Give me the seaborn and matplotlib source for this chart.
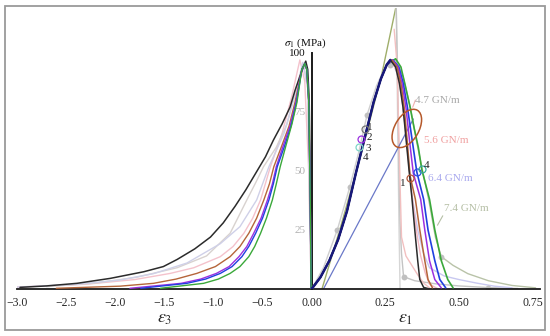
import numpy as np
import seaborn as sns
import matplotlib
matplotlib.use("Agg")
import matplotlib.pyplot as plt
from matplotlib.patches import Ellipse, Rectangle
from matplotlib.transforms import ScaledTranslation, blended_transform_factory

#%% data
# left branch: sigma_1 vs eps_3
bl_e3 = [-0.005, -0.012, -0.025, -0.04, -0.06, -0.085, -0.12, -0.17, -0.22, -0.30, -0.39, -0.47, -0.57, -0.67, -0.78, -0.9, -1.03, -1.19, -1.37, -1.51, -1.71, -2.05, -2.39, -2.7, -2.97]
bl_s3 = [0, 40, 80, 93, 96.5, 94, 90, 84, 77, 70, 63, 56, 49, 42, 35, 28, 22, 17, 12.5, 9.5, 7.3, 4.5, 2.4, 1.3, 0.7]
br_e3 = [-0.005, -0.015, -0.03, -0.05, -0.07, -0.1, -0.17, -0.23, -0.31, -0.385, -0.43, -0.487, -0.56, -0.64, -0.73, -0.83, -0.98, -1.17, -1.38, -1.61, -1.95, -2.6]
br_s3 = [0, 40, 80, 93, 95.5, 93, 79, 69, 60, 51.8, 44.5, 37.7, 30, 23.6, 18, 13.7, 9.5, 6.6, 4.2, 2.4, 1.2, 0.3]
pu_e3 = [-0.005, -0.015, -0.03, -0.05, -0.07, -0.1, -0.16, -0.22, -0.295, -0.36, -0.4, -0.45, -0.515, -0.59, -0.66, -0.74, -0.84, -0.97, -1.13, -1.33, -1.85]
pu_s3 = [0, 40, 80, 93, 95.5, 93, 79, 69, 60, 51.8, 44.5, 37.7, 30, 23.6, 18, 13.7, 9.5, 6.6, 4.2, 2.4, 0.3]
bu_e3 = [-0.005, -0.015, -0.03, -0.05, -0.07, -0.1, -0.155, -0.21, -0.28, -0.35, -0.39, -0.435, -0.5, -0.57, -0.64, -0.71, -0.81, -0.93, -1.08, -1.27, -1.74]
bu_s3 = [0, 40, 80, 93, 95.5, 93, 79, 69, 60, 51.8, 44.5, 37.7, 30, 23.6, 18, 13.7, 9.5, 6.6, 4.2, 2.4, 0.3]
gr_e3 = [-0.005, -0.015, -0.03, -0.05, -0.07, -0.1, -0.15, -0.2, -0.26, -0.32, -0.36, -0.40, -0.46, -0.52, -0.58, -0.64, -0.73, -0.83, -0.95, -1.10, -1.54]
gr_s3 = [0, 40, 80, 93, 95.5, 93, 79, 70, 61, 51.8, 44.5, 37.7, 30, 23.6, 18, 13.7, 9.5, 6.6, 4.2, 2.4, 0.3]
pk_e3 = [-0.005, -0.03, -0.07, -0.12, -0.2, -0.3, -0.42, -0.52, -0.6, -0.69, -0.8, -0.93, -1.2, -1.44, -1.8, -2.3, -3.0]
pk_s3 = [0, 50, 88, 97, 82, 66, 51.8, 37.7, 30, 23.6, 18, 13.7, 9, 6.6, 4, 2, 0.8]
gy_e3 = [-0.005, -0.04, -0.08, -0.15, -0.25, -0.36, -0.49, -0.57, -0.66, -0.83, -1.07, -1.37, -1.78, -2.2, -2.7]
gy_s3 = [0, 85, 95, 86, 70, 60, 51.8, 45, 37.7, 23.6, 14, 9, 5, 2.5, 1]
lv_e3 = [-0.005, -0.04, -0.09, -0.17, -0.28, -0.435, -0.56, -0.73, -0.93, -1.27, -1.61, -1.95, -2.4, -3.0]
lv_s3 = [0, 85, 96, 82, 66, 51.8, 37.7, 26.4, 19.2, 11, 6.5, 3.8, 2, 0.8]

# right branch: sigma_1 vs eps_1, shared pre-peak part
rise_e1 = [0.0, 0.03, 0.06, 0.09, 0.12, 0.15, 0.18, 0.21, 0.235, 0.255]
rise_s1 = [0, 5, 12, 21, 33, 49, 64, 79, 89, 95]
bl_e1 = [0.267, 0.285, 0.298, 0.31, 0.32, 0.33, 0.34, 0.35, 0.36, 0.367, 0.38, 0.40]
bl_s1 = [97, 94, 87, 77, 64, 51, 39, 25, 12, 4, 0.7, 0]
br_e1 = [0.272, 0.29, 0.303, 0.314, 0.324, 0.334, 0.352, 0.367, 0.384, 0.395, 0.41]
br_s1 = [97, 94, 87, 77, 63, 48, 38, 25, 12, 4, 0.5]
pu_e1 = [0.274, 0.293, 0.307, 0.32, 0.332, 0.345, 0.37, 0.384, 0.40, 0.418, 0.44]
pu_s1 = [97, 94, 87, 77, 63, 49, 38, 25, 12, 4, 0.5]
bu_e1 = [0.276, 0.296, 0.311, 0.325, 0.34, 0.357, 0.38, 0.395, 0.418, 0.435, 0.455]
bu_s1 = [97, 94, 87, 77, 64, 49.5, 38, 25, 12, 4, 0.5]
gr_e1 = [0.285, 0.303, 0.318, 0.334, 0.348, 0.362, 0.374, 0.40, 0.418, 0.44, 0.462, 0.48]
gr_s1 = [97.5, 94, 86, 77, 68, 60, 50.5, 38, 25, 12, 4, 0.5]
pk_e1 = [0.27, 0.29, 0.305, 0.318, 0.33, 0.342, 0.355, 0.37, 0.385, 0.40, 0.43]
pk_s1 = [97, 92, 82, 68, 52, 38, 25, 14, 7, 2, 0]

# pale extra curves (right)
ol_e1 = [0.035, 0.10, 0.17, 0.239, 0.287]
ol_s1 = [0, 27, 58, 91.5, 120]
gA_e1 = [0.287, 0.29, 0.293, 0.296, 0.30]
gA_s1 = [120, 90, 60, 30, 0]
gB_e1 = [0.287, 0.291, 0.294, 0.297, 0.30, 0.305, 0.312, 0.35, 0.42, 0.5, 0.6, 0.7]
gB_s1 = [120, 95, 70, 45, 28, 15, 5.2, 3.5, 2.2, 1.3, 0.6, 0.2]
pB_e1 = [0.28, 0.29, 0.295, 0.30, 0.305, 0.32, 0.34, 0.36, 0.38, 0.40]
pB_s1 = [110, 95, 70, 45, 22, 14, 10, 6, 2.5, 0.5]
lv_e1 = [0.275, 0.30, 0.32, 0.34, 0.36, 0.38, 0.40, 0.45, 0.5, 0.56, 0.62, 0.68]
lv_s1 = [96, 88, 66, 40, 25, 15, 9, 5.5, 4, 2.5, 1.2, 0.5]
sg_e1 = [0.285, 0.31, 0.335, 0.36, 0.38, 0.40, 0.42, 0.44, 0.48, 0.53, 0.6, 0.68, 0.76]
sg_s1 = [97, 90, 77, 60, 48, 36, 22, 13.7, 10, 6.5, 3.5, 1.5, 0.5]
gr_rise_e1 = [0.0, 0.04, 0.087, 0.129, 0.16, 0.188, 0.22, 0.25, 0.265]
gr_rise_s1 = [0, 9, 25, 43, 58, 73.7, 86, 94, 96]
dot_e1 = [0.087, 0.129, 0.188, 0.265, 0.312, 0.44, 0.6]
dot_s1 = [25, 43, 73.7, 95, 5.2, 13.7, 0.6]
ln_e1 = [0.04, 0.345]
ln_s1 = [0, 72]

# markers with numbers
c_rise_e1 = [0.18, 0.166, 0.16]
c_rise_s1 = [67.7, 63.4, 60.3]
c_rise_col = ['#777777', '#9b30e0', '#7fd6c8']
c_fall_e1 = [0.334, 0.357, 0.374]
c_fall_s1 = [47, 49.5, 51]
c_fall_col = ['#b5583a', '#2a50e0', '#3aa8a0']

xticks = [-3.0, -2.5, -2.0, -1.5, -1.0, -0.5, 0.0, 0.25, 0.50, 0.75]
xticklabels = ['\u22123.0', '\u22122.5', '\u22122.0', '\u22121.5', '\u22121.0', '\u22120.5', '0.00', '0.25', '0.50', '0.75']
yticks = [25, 50, 75, 100]

#%% style
sns.set_theme(style='white')
plt.rcParams['font.family'] = ['Liberation Serif', 'DejaVu Serif']
plt.rcParams['mathtext.fontset'] = 'stix'

c_black = '#2b2b2b'
c_brown = '#b5653a'
c_purple = '#9b30e0'
c_blue = '#2040e0'
c_green = '#3aa83a'
c_navy = '#17197a'

def fwd(x):
    x = np.asarray(x, dtype=float)
    return np.where(x < 0, x / 3.0, x)

def inv(x):
    x = np.asarray(x, dtype=float)
    return np.where(x < 0, x * 3.0, x)

fig = plt.figure(figsize=(5.5, 3.36), dpi=100)
ax = fig.add_axes([17/550, 47/336, (540-17)/550, (289-8)/336])
ax.set_xscale('function', functions=(fwd, inv))

def line(x, y, c, lw=1.0, z=2):
    sns.lineplot(x=x, y=y, sort=False, estimator=None, color=c, lw=lw, ax=ax, zorder=z,
                 solid_joinstyle='round')

#%% left branch
line(pk_e3, pk_s3, '#f4c2cc', 1.0, 2)
line(gy_e3, gy_s3, '#d8d2cf', 1.0, 2)
line(lv_e3, lv_s3, '#cfd0e8', 1.0, 2)
line(bl_e3, bl_s3, c_black, 1.1, 3)
line(br_e3, br_s3, c_brown, 1.0, 3)
line(pu_e3, pu_s3, c_purple, 1.0, 3)
line(bu_e3, bu_s3, c_blue, 1.0, 3)
line(gr_e3, gr_s3, c_green, 1.0, 3)

#%% right branch
line(ol_e1, ol_s1, '#9fae6a', 1.0, 2)
line(gA_e1, gA_s1, '#d6d6d6', 1.0, 2)
line(gB_e1, gB_s1, '#c4c4c4', 1.0, 2)
line(pB_e1, pB_s1, '#f2c0c0', 1.0, 2)
line(lv_e1, lv_s1, '#c8c8f0', 1.0, 2)
line(sg_e1, sg_s1, '#b9c3a8', 1.0, 2)
line(gr_rise_e1, gr_rise_s1, '#cfcfcf', 1.0, 2)
line(ln_e1, ln_s1, '#6a78c8', 0.9, 2)
line(rise_e1 + pk_e1, rise_s1 + pk_s1, '#f2b8c2', 1.0, 2)
line(rise_e1 + gr_e1, rise_s1 + gr_s1, c_green, 1.2, 3)
line(rise_e1 + bu_e1, rise_s1 + bu_s1, c_blue, 1.2, 3)
line(rise_e1 + pu_e1, rise_s1 + pu_s1, c_purple, 1.1, 3)
line(rise_e1 + br_e1, rise_s1 + br_s1, c_brown, 1.1, 3)
line(rise_e1 + bl_e1, rise_s1 + bl_s1, c_black, 1.1, 3)
line(rise_e1 + [0.267], rise_s1 + [97], c_navy, 1.8, 4)

sns.scatterplot(x=dot_e1, y=dot_s1, color='#c0c0c0', s=18, linewidth=0, ax=ax, zorder=2)
for e, s, c in zip(c_rise_e1 + c_fall_e1, c_rise_s1 + c_fall_s1, c_rise_col + c_fall_col):
    ax.plot(e, s, 'o', ms=5, mfc='none', mec=c, mew=0.9, zorder=5)

for t, e, s in zip(['1', '2', '3', '4'], [0.187, 0.187, 0.184, 0.174], [68.5, 64, 59.5, 55.5]):
    ax.text(e, s, t, fontsize=8, color='#222222', ha='left', va='center', zorder=6)
ax.text(0.318, 44.5, '1', fontsize=8, color='#222222', ha='right', va='center', zorder=6)
ax.text(0.38, 52.5, '4', fontsize=8, color='#222222', ha='left', va='center', zorder=6)

# ellipse drawn in inches around a data point
tr = fig.dpi_scale_trans + ScaledTranslation(0.323, 68, ax.transData)
ax.add_patch(Ellipse((0, 0), 0.42, 0.24, angle=60, transform=tr, fill=False,
                     ec='#b5582a', lw=1.1, zorder=6))

ax.text(0.352, 80, '4.7 GN/m', fontsize=8, color='#a8a8a8', va='center')
ax.text(0.381, 63, '5.6 GN/m', fontsize=8, color='#f0a0a0', va='center')
ax.text(0.395, 47, '6.4 GN/m', fontsize=8, color='#a8a8ee', va='center')
ax.text(0.45, 34, '7.4 GN/m', fontsize=8, color='#b5bfa5', va='center')
ax.plot([0.445, 0.427], [31, 27], color='#b5bfa5', lw=0.8)
ax.plot([0.343, 0.352], [77, 80], color='#f0b0b0', lw=0.8)

#%% axes
ax.set_xlim(-3.0, 0.775)
ax.set_ylim(0, 119)
for sp in ['top', 'right']:
    ax.spines[sp].set_visible(False)
ax.spines['left'].set_position(('data', 0))
ax.spines['left'].set_bounds(0, 100)
ax.spines['left'].set_color('#1a1a1a')
ax.spines['left'].set_linewidth(1.4)
ax.spines['left'].set_zorder(1)
ax.spines['bottom'].set_color('#1a1a1a')
ax.spines['bottom'].set_linewidth(1.3)

ax.set_xticks(xticks)
ax.set_xticklabels(xticklabels)
ax.set_yticks(yticks)
ax.set_yticklabels([str(v) for v in yticks])
ax.tick_params(axis='x', direction='out', length=4, width=1, color='#1a1a1a', labelsize=8.5, pad=2)
ax.tick_params(axis='y', direction='out', length=3, width=0.8, color='#b0b0b0', labelsize=8, pad=1.5)
for lab in ax.get_yticklabels():
    lab.set_color('#b0b0b0')
ax.get_yticklabels()[-1].set_color('#111111')
ax.yaxis.get_major_ticks()[-1].tick1line.set_color('#111111')
ax.yaxis.get_major_ticks()[-1].tick1line.set_markeredgewidth(1.2)
ax.grid(False)

ax.text(-0.06, 104, r'$\sigma_1$ (MPa)', fontsize=8, ha='center', va='center', color='#111111')

bt = blended_transform_factory(ax.transData, ax.transAxes)
ax.text(-1.5, -0.105, r'$\varepsilon_3$', transform=bt, fontsize=13, ha='center', va='center')
ax.text(0.318, -0.105, r'$\varepsilon_1$', transform=bt, fontsize=13, ha='center', va='center')

# grey outer frame
fig.patches.append(Rectangle((5/550, 6/336), 540/550, 324/336, transform=fig.transFigure,
                             fill=False, ec='#9a9a9a', lw=1.3))

fig.savefig('out.png', dpi=100)
